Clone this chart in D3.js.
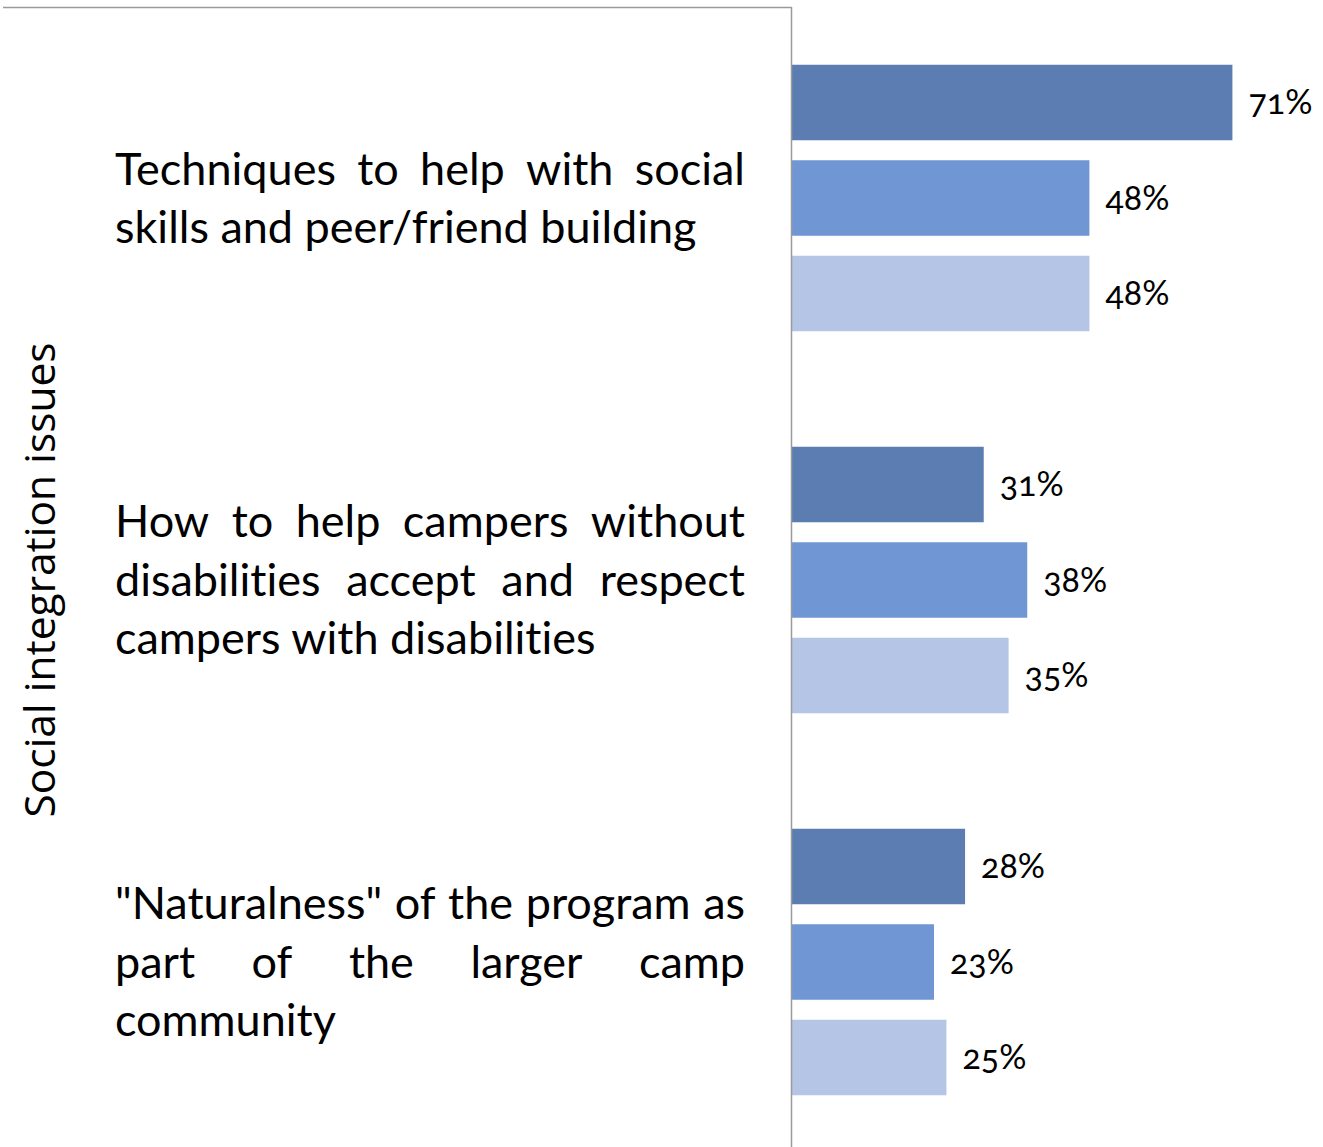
<!DOCTYPE html>
<html>
<head>
<meta charset="utf-8">
<script src="https://cdn.jsdelivr.net/npm/d3@7"></script>
<style>
  html, body { margin: 0; padding: 0; background: #fff; }
  svg { display: block; }
  text { font-variant-ligatures: none; font-feature-settings: "liga" 0, "clig" 0; }
  text.val { font-feature-settings: "liga" 0, "onum" 1; }
</style>
</head>
<body>
<svg id="chart" width="1323" height="1147"></svg>
<script>
// ---- data ----
const categories = [
  "Techniques to help with social skills and peer/friend building",
  "How to help campers without disabilities accept and respect campers with disabilities",
  "\"Naturalness\" of the program as part of the larger camp community"
];
const categoryLines = [
  ["Techniques to help with social", "skills and peer/friend building"],
  ["How to help campers without", "disabilities accept and respect", "campers with disabilities"],
  ["\"Naturalness\" of the program as", "part of the larger camp", "community"]
];
const seriesNames = ["Series 1", "Series 2", "Series 3"];
const series1 = [71, 31, 28];
const series2 = [48, 38, 23];
const series3 = [48, 35, 25];
const axisTitle = "Social integration issues";

// ---- layout ----
const svg = d3.select("#chart");
const W = 1323, H = 1147;
const plotLeft = 791, plotTop = 7;
const colors = ["#5B7DB1", "#7097D4", "#B4C5E6"];

const x = d3.scaleLinear().domain([0, 100]).range([plotLeft, plotLeft + 621.7]);
const y0 = d3.scaleBand().domain(categories).range([plotTop, plotTop + 3 * 382]).padding(0);
const y1 = d3.scaleBand().domain(seriesNames).range([0, y0.bandwidth()])
  .paddingInner(0.2094).paddingOuter(0.6047);

const allSeries = [series1, series2, series3];
const rows = [];
categories.forEach((c, i) => {
  seriesNames.forEach((s, j) => rows.push({cat: c, ser: s, j, v: allSeries[j][i]}));
});

// bars
svg.append("g").selectAll("rect").data(rows).join("rect")
  .attr("x", x(0))
  .attr("y", d => y0(d.cat) + y1(d.ser))
  .attr("width", d => x(d.v) - x(0))
  .attr("height", y1.bandwidth())
  .attr("fill", d => colors[d.j]);

// value labels
svg.append("g").selectAll("text").data(rows).join("text")
  .attr("class", "val")
  .attr("x", d => x(d.v) + 16)
  .attr("y", d => y0(d.cat) + y1(d.ser) + y1.bandwidth() / 2)
  .attr("dy", "0.35em")
  .attr("font-family", "Lato, 'Open Sans', sans-serif")
  .attr("font-size", 34)
  .attr("fill", "#000")
  .text(d => d.v + "%");

// axis line and top border
svg.append("line").attr("x1", plotLeft + 0.5).attr("x2", plotLeft + 0.5)
  .attr("y1", plotTop).attr("y2", H).attr("stroke", "#9a9a9a").attr("stroke-width", 1.5);
svg.append("line").attr("x1", 3).attr("x2", plotLeft + 0.5)
  .attr("y1", plotTop + 0.5).attr("y2", plotTop + 0.5).attr("stroke", "#9a9a9a").attr("stroke-width", 1.5);

// category labels, justified
const textLeft = 115, textRight = 745, lineH = 58.5, fs = 45;
const labG = svg.append("g")
  .attr("font-family", "Lato, 'Open Sans', sans-serif")
  .attr("font-size", fs).attr("fill", "#000");
categories.forEach((c, i) => {
  const lines = categoryLines[i];
  const cy = y0(c) + y0.bandwidth() / 2;
  const n = lines.length;
  lines.forEach((ln, k) => {
    const baseY = cy + (k - (n - 1) / 2) * lineH;
    const isLast = k === n - 1;
    if (isLast) {
      labG.append("text").attr("x", textLeft).attr("y", baseY).attr("dy", "0.35em").text(ln);
    } else {
      const words = ln.split(" ");
      const nodes = words.map(w => labG.append("text").attr("y", baseY).attr("dy", "0.35em").text(w));
      const widths = nodes.map(t => t.node().getComputedTextLength());
      const total = d3.sum(widths);
      const gap = (textRight - textLeft - total) / (words.length - 1);
      let cx = textLeft;
      nodes.forEach((t, m) => { t.attr("x", cx); cx += widths[m] + gap; });
    }
  });
});

// axis title
svg.append("text")
  .attr("transform", `translate(55, ${(342 + 818) / 2}) rotate(-90)`)
  .attr("text-anchor", "middle")
  .attr("font-family", "'Open Sans', sans-serif")
  .attr("font-size", 42.5)
  .attr("fill", "#000")
  .text(axisTitle);
</script>
</body>
</html>
